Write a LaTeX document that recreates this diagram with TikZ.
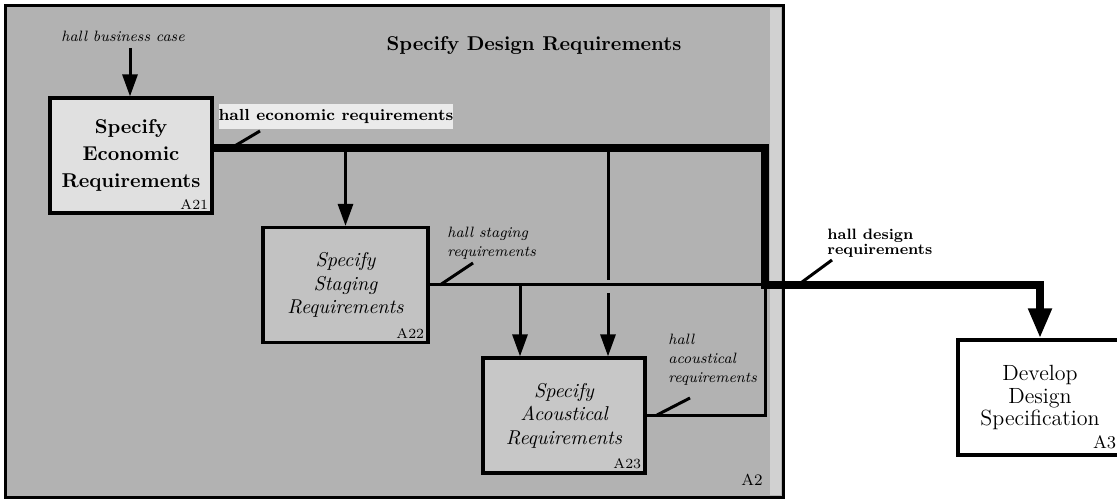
\documentclass[tikz,border=0pt]{standalone}
\usetikzlibrary{arrows.meta, calc}
\begin{document}
\begin{tikzpicture}[x=0.5pt, y=-0.5pt,
  procbox/.style={draw, line width=1.6pt, minimum width=81pt, minimum height=57.5pt,
    inner sep=0pt, align=center},
  idlabel/.style={anchor=south east, font=\scriptsize, inner sep=2.5pt},
  notelabel/.style={font=\fontsize{7.5}{9.5}\selectfont\itshape, align=left, inner sep=0pt},
  thinflow/.style={line width=1.5pt, -{Triangle[length=11pt, width=7.5pt]}},
  mainflow/.style={line width=4pt, -{Triangle[length=15pt, width=11pt]}},
  leader/.style={line width=1.5pt}]
  \clip (0,0) rectangle (1117,501);
  \fill[white] (0,0) rectangle (1117,501);
  % 外框 A2
  \draw[line width=1.5pt, fill=black!30] (5,6) rectangle (783,497);
  \fill[black!18] (770,8) rectangle (781,495);
  \node[font=\footnotesize] (A2id) at (752,480) {A2};
  \node[font=\bfseries] (title) at (534,46) {Specify Design Requirements};
  % 活动框
  \node[procbox, fill=black!12, font=\fontsize{10}{13.5}\selectfont\bfseries] (A21) at (131,155.5)
    {Specify\\Economic\\Requirements};
  \node[idlabel] (A21id) at (A21.south east) {A21};
  \node[procbox, fill=black!24, minimum width=82.5pt, font=\fontsize{10}{11.8}\selectfont\itshape]
    (A22) at (345.5,285) {Specify\\Staging\\Requirements};
  \node[idlabel] (A22id) at (A22.south east) {A22};
  \node[procbox, fill=black!22, font=\fontsize{10}{11.8}\selectfont\itshape] (A23) at (564,415.5)
    {Specify\\Acoustical\\Requirements};
  \node[idlabel] (A23id) at (A23.south east) {A23};
  \node[procbox, fill=white, minimum width=82pt, font=\fontsize{11}{11.3}\selectfont] (A3)
    at (1040,397.5) {Develop\\Design\\Specification};
  \node[idlabel, font=\small, inner sep=3.5pt] (A3id) at (A3.south east) {A3};
  % 连接点
  \coordinate (bin) at (130,48);
  \coordinate (ej) at (765,148);
  \coordinate (dj) at (765,285);
  \coordinate (c1) at (520,285);
  \coordinate (c2) at (608,285);
  % 细线
  \draw[thinflow] (bin) -- (bin |- A21.north);
  \draw[thinflow] (A22.north |- ej) -- (A22.north);
  \draw[leader] (A22.east) -- (dj);
  \draw[thinflow] (c1) -- (c1 |- A23.north);
  \draw[leader] (c2 |- ej) -- ($(c2)+(0,-5)$);
  \draw[thinflow] ($(c2)+(0,8)$) -- (c2 |- A23.north);
  \draw[leader] (A23.east) -| (dj);
  % 粗线
  \draw[mainflow] (A21.east |- ej) -| (dj) -| (A3.north);
  % 标签
  \node[notelabel] (bizlbl) at (123,36) {hall business case};
  \node[fill=black!8, font=\footnotesize\bfseries, minimum width=115pt, minimum height=12.5pt,
    inner sep=0pt] (econlbl) at (336,117) {hall economic requirements};
  \coordinate (econpt) at (233,147);
  \draw[leader] (econpt) -- ++(27,-16);
  \node[notelabel, anchor=west] (stglbl) at (447,243) {hall staging\\requirements};
  \coordinate (stgpt) at (440,285);
  \draw[leader] (stgpt) -- ++(33,-22);
  \node[font=\fontsize{7.5}{6.5}\selectfont\bfseries, align=left, anchor=west, inner sep=0pt]
    (dsglbl) at (827,243) {hall design\\requirements};
  \coordinate (dsgpt) at (798,285);
  \draw[leader] (dsgpt) -- ++(34,-25);
  \node[notelabel, anchor=west] (acolbl) at (668,360) {hall\\acoustical\\requirements};
  \coordinate (acopt) at (657,415);
  \draw[leader] (acopt) -- ++(33,-17);
\end{tikzpicture}
\end{document}
